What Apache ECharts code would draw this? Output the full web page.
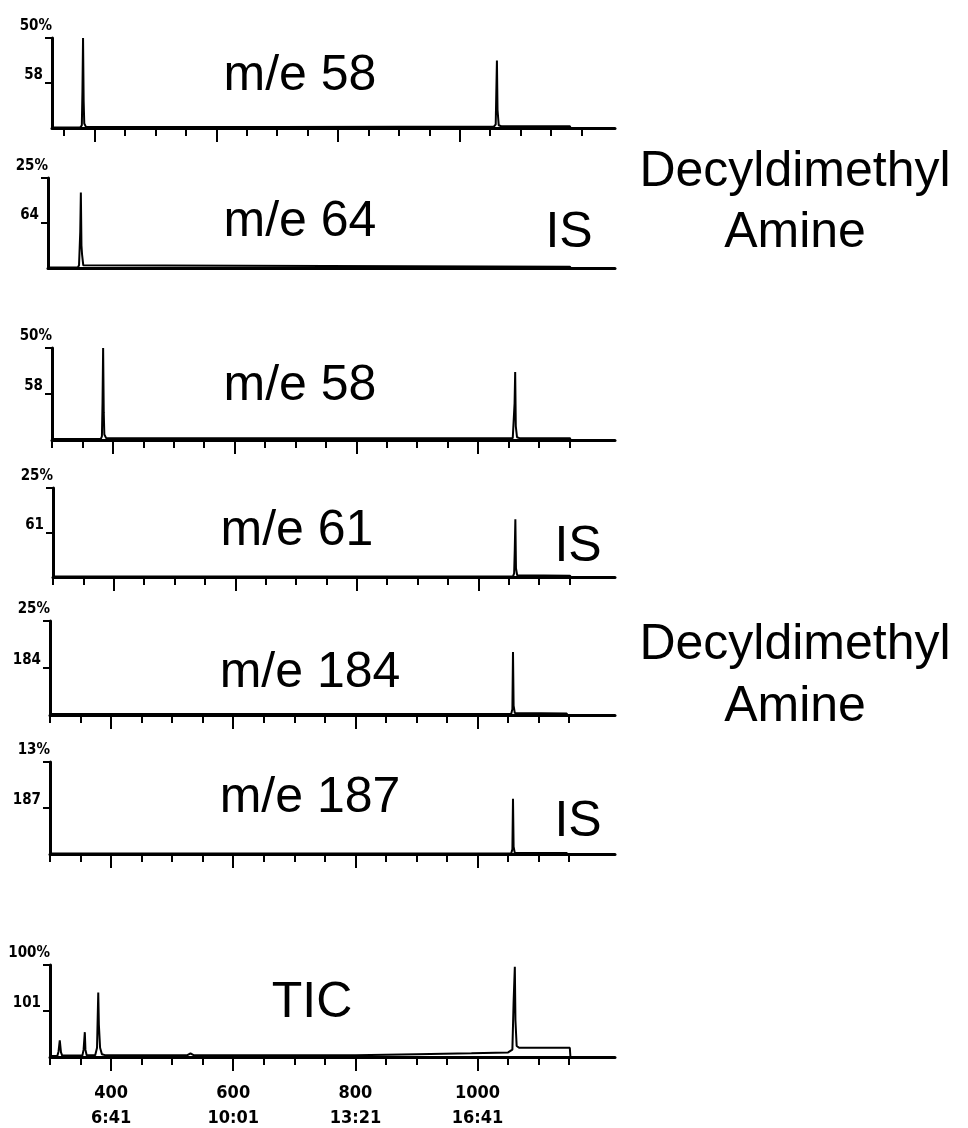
<!DOCTYPE html>
<html>
<head>
<meta charset="utf-8">
<script src="https://cdn.jsdelivr.net/npm/echarts@6/dist/echarts.min.js"></script>
<style>
  html, body { margin: 0; padding: 0; background: #ffffff; }
  #chart { width: 968px; height: 1128px; }
</style>
</head>
<body>
<div id="chart"></div>
<script>
// ---------------- data ----------------
const panelTitles = ['m/e 58', 'm/e 64', 'm/e 58', 'm/e 61', 'm/e 184', 'm/e 187', 'TIC'];
const panelMass   = ['58', '64', '58', '61', '184', '187', '101'];
const panelScale  = ['50%', '25%', '50%', '25%', '25%', '13%', '100%'];

// scan-number ticks
const minorTicksRunA = [350, 400, 450, 500, 550, 600, 650, 700, 750, 800, 850, 900, 950, 1000, 1050, 1100, 1150, 1200];
const minorTicksRunB = [300, 350, 400, 450, 500, 550, 600, 650, 700, 750, 800, 850, 900, 950, 1000, 1050, 1100, 1150];
const majorTicks     = [400, 600, 800, 1000];
const xLabelScans    = [400, 600, 800, 1000];
const xLabelTimes    = ['6:41', '10:01', '13:21', '16:41'];

// traces: [scan, relative intensity %]
const trace58a = [[330,0.5],[376,0.5],[379,3],[380,40],[381,100],[382,30],[383,5],[386,1],[700,1],[900,1.5],[1056,1.5],[1059,4],[1060,40],[1061,75],[1062,20],[1064,3],[1068,2],[1181,2],[1182,0]];
const trace64  = [[323,0.5],[372,0.5],[374,3],[376,40],[377,84],[378,25],[379,15],[381,3],[384,1],[1181,1.5],[1182,0]];
const trace58b = [[300,1],[380,1],[382,4],[383,40],[384,100],[385,30],[386,6],[389,2],[1057,2],[1059,4],[1060,40],[1061,74],[1062,15],[1064,3],[1068,2],[1151,2],[1152,0]];
const trace61  = [[300,0.5],[1057,0.5],[1059,4],[1060,30],[1061,65],[1062,10],[1064,2],[1151,1.5],[1152,0]];
const trace184 = [[300,1],[1055,1],[1057,6],[1058,67],[1059,10],[1061,2],[1146,1.5],[1147,0]];
const trace187 = [[300,0.5],[1055,0.5],[1057,5],[1058,60],[1059,8],[1061,1],[1146,1],[1147,0]];
const traceTIC = [[300,1],[312,1],[314,6],[316,18],[318,5],[320,1.5],[353,1.5],[355,8],[357,27],[358,8],[360,2],[374,2],[377,10],[379,70],[380,35],[382,10],[385,3],[390,2],[525,2],[530,4],[535,2],[800,2],[900,3],[990,4],[1050,5],[1057,8],[1059,60],[1061,98],[1062,40],[1064,12],[1068,10],[1151,10],[1152,0]];

const traces = [trace58a, trace64, trace58b, trace61, trace184, trace187, traceTIC];

// ---------------- layout ----------------
const panels = [
  { left: 52, top: 38,  right: 615, bottom: 128, min: 330, max: 1255, ticks: minorTicksRunA, major: true },
  { left: 48, top: 178, right: 615, bottom: 268, min: 323, max: 1255, ticks: [], major: false },
  { left: 52, top: 348, right: 615, bottom: 440, min: 300, max: 1225, ticks: minorTicksRunB, major: true },
  { left: 53, top: 488, right: 615, bottom: 577, min: 300, max: 1225, ticks: minorTicksRunB, major: true },
  { left: 50, top: 621, right: 615, bottom: 715, min: 300, max: 1225, ticks: minorTicksRunB, major: true },
  { left: 50, top: 762, right: 615, bottom: 854, min: 300, max: 1225, ticks: minorTicksRunB, major: true },
  { left: 50, top: 965, right: 615, bottom: 1057, min: 300, max: 1225, ticks: minorTicksRunB, major: true, labels: true }
];

const smallFont = "'Liberation Sans Narrow', 'DejaVu Sans Condensed', sans-serif";
const bigFont = "'Liberation Sans', Arial, Helvetica, sans-serif";

const grid = [], xAxis = [], yAxis = [], series = [];
panels.forEach((p, i) => {
  grid.push({ left: p.left, top: p.top, width: p.right - p.left, height: p.bottom - p.top, containLabel: false, outerBoundsMode: 'none' });
  // minor ticks + axis line
  xAxis.push({
    type: 'value', gridIndex: i, min: p.min, max: p.max, position: 'bottom',
    axisLine: { show: true, onZero: false, lineStyle: { color: '#000', width: 3 } },
    axisTick: { show: p.ticks.length > 0, customValues: p.ticks, length: 8, inside: false, lineStyle: { color: '#000', width: 2 } },
    axisLabel: { show: false },
    splitLine: { show: false }
  });
  // major ticks (+ labels on TIC)
  xAxis.push({
    type: 'value', gridIndex: i, min: p.min, max: p.max, position: 'bottom',
    axisLine: { show: false, onZero: false },
    axisTick: { show: p.major, customValues: majorTicks, length: 14, lineStyle: { color: '#000', width: 2 } },
    axisLabel: {
      show: !!p.labels, customValues: xLabelScans, margin: 24,
      formatter: v => v + '\n' + xLabelTimes[xLabelScans.indexOf(v)],
      fontFamily: smallFont, fontWeight: 'bold', fontSize: 18, lineHeight: 25, color: '#000'
    },
    splitLine: { show: false }
  });
  yAxis.push({
    type: 'value', gridIndex: i, min: 0, max: 100,
    name: panelScale[i], nameLocation: 'end', nameGap: 4,
    nameTextStyle: { align: 'right', verticalAlign: 'bottom', fontFamily: smallFont, fontWeight: 'bold', fontSize: 15, color: '#000', padding: [0, 0, 0, 0] },
    axisLine: { show: true, lineStyle: { color: '#000', width: 3 } },
    axisTick: { show: true, customValues: [50, 100], length: 7, lineStyle: { color: '#000', width: 2 } },
    axisLabel: {
      show: true, customValues: [50], margin: 9, verticalAlign: 'bottom',
      formatter: () => panelMass[i],
      fontFamily: smallFont, fontWeight: 'bold', fontSize: 15, color: '#000'
    },
    splitLine: { show: false }
  });
  series.push({
    type: 'line', xAxisIndex: 2 * i, yAxisIndex: i, data: traces[i],
    showSymbol: false, symbol: 'none', smooth: false, animation: false,
    lineStyle: { color: '#000', width: 2 }, z: 3
  });
});

function txt(text, x, y, size) {
  return {
    type: 'text', x: x, y: y, silent: true,
    style: {
      text: text, fill: '#000', fontSize: size, fontFamily: bigFont,
      textAlign: 'center', textVerticalAlign: 'middle', align: 'center', verticalAlign: 'middle'
    }
  };
}

const graphic = [
  txt(panelTitles[0], 300, 76, 50),
  txt(panelTitles[1], 300, 222, 50),
  txt(panelTitles[2], 300, 386, 50),
  txt(panelTitles[3], 297, 531, 50),
  txt(panelTitles[4], 310, 673, 50),
  txt(panelTitles[5], 310, 798, 50),
  txt(panelTitles[6], 312, 1003, 50),
  txt('IS', 569, 233, 50),
  txt('IS', 578, 547, 50),
  txt('IS', 578, 822, 50),
  txt('Decyldimethyl', 795, 172, 50),
  txt('Amine', 795, 233, 50),
  txt('Decyldimethyl', 795, 645, 50),
  txt('Amine', 795, 707, 50)
];

const chart = echarts.init(document.getElementById('chart'), null, { renderer: 'canvas' });
chart.setOption({
  backgroundColor: '#ffffff',
  animation: false,
  grid: grid,
  xAxis: xAxis,
  yAxis: yAxis,
  series: series,
  graphic: graphic
});
</script>
</body>
</html>
